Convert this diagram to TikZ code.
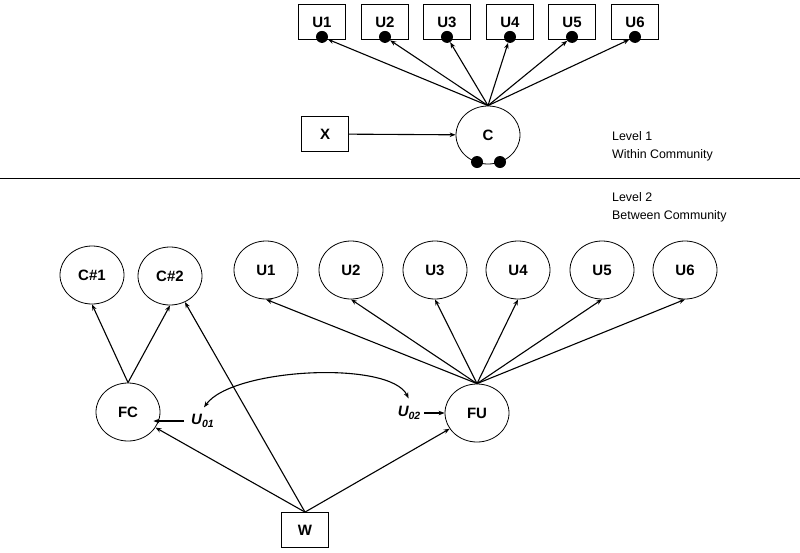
\documentclass[tikz,border=0pt]{standalone}
\usepackage{fontspec}
\setmainfont{Liberation Sans}
\usetikzlibrary{shapes.geometric,arrows.meta}
\begin{document}
\begin{tikzpicture}[x=1pt,y=-1pt,
  lbl/.style={font=\fontsize{15}{17}\selectfont\bfseries},
  box/.style={draw,rectangle,minimum width=47pt,minimum height=35pt,inner sep=0pt,lbl,line width=0.8pt},
  ell/.style={draw,ellipse,minimum width=64pt,minimum height=58pt,inner sep=0pt,lbl,line width=0.8pt},
  dot/.style={circle,fill=black,minimum size=12pt,inner sep=0pt},
  arr/.style={line width=1.1pt,-{Stealth[length=6pt,width=4.5pt]}},
  darr/.style={line width=1.1pt,{Stealth[length=6pt,width=4.5pt]}-{Stealth[length=6pt,width=4.5pt]}},
  lvl/.style={font=\fontsize{12.4}{18}\selectfont,align=left,anchor=west,inner sep=0pt}]
\useasboundingbox (0,0) rectangle (800,552);
% Level 1
\foreach \i/\x in {1/322,2/385,3/447,4/510,5/572,6/635}{
  \node[box] (T\i) at (\x,22) {U\i};
  \node[dot] (d\i) at ([yshift=3pt]T\i.south) {};
}
\node[ell] (C) at (488,135) {C};
\node[box] (X) at (325,134) {X};
\node[dot] (cd1) at (477,162) {};
\node[dot] (cd2) at (500,162) {};
\foreach \i in {1,...,6}{ \draw[arr] (C.north) -- (d\i); }
\draw[arr] (X) -- (C);
\node[lvl] (L1) at (612,146) {Level 1\\Within Community};
\draw[line width=0.8pt] (0,178) -- (800,178);
\node[lvl] (L2) at (612,207) {Level 2\\Between Community};
% Level 2
\foreach \i/\x in {1/266,2/351,3/435,4/518,5/602,6/685}{
  \node[ell] (B\i) at (\x,270) {U\i};
}
\node[ell] (C1) at (92,275) {C\#1};
\node[ell] (C2) at (170,276) {C\#2};
\node[ell] (FC) at (128,412) {FC};
\node[ell] (FU) at (477,413) {FU};
\node[box] (W) at (305,530) {W};
\node[inner sep=0pt,anchor=west] (u01) at (191,421) {\fontsize{15}{17}\selectfont\bfseries\itshape U\textsubscript{01}};
\node[inner sep=0pt,anchor=east] (u02) at (421,413) {\fontsize{15}{17}\selectfont\bfseries\itshape U\textsubscript{02}};
\foreach \i in {1,...,6}{ \draw[arr] (FU.north) -- (B\i.south); }
\draw[arr] (FC.north) -- (C1.south);
\draw[arr] (FC.north) -- (C2.south);
\draw[arr] ([xshift=-7pt]u01.west) -- ([xshift=-7pt]u01.west -| FC.east);
\draw[arr] ([xshift=3pt]u02.east) -- (FU.west);
\draw[darr] ([shift={(13pt,7pt)}]u01.north west) .. controls (232,368) and (390,360) .. ([shift={(11pt,8pt)}]u02.north west);
\draw[arr] (W.north) -- (FC);
\draw[arr] (W.north) -- (FU);
\draw[arr] (W.north) -- (C2);
\end{tikzpicture}
\end{document}
